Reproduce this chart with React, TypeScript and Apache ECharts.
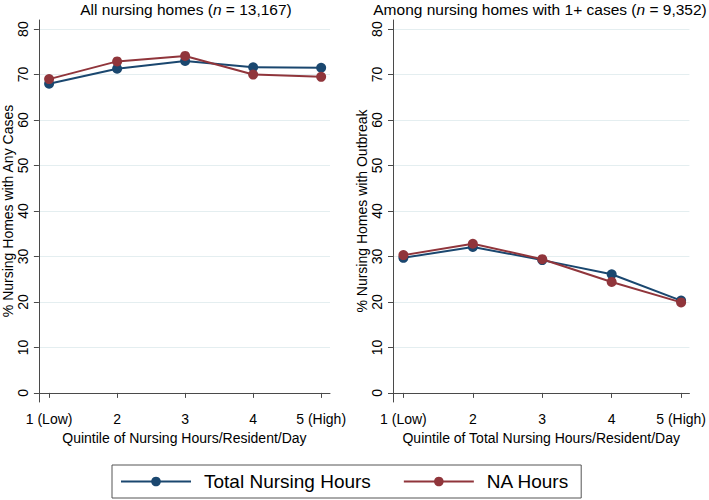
import React, { useEffect, useRef } from "react";
import * as echarts from "echarts";

const quintiles = [1, 2, 3, 4, 5];
const quintileLabels = ["1 (Low)", "2", "3", "4", "5 (High)"];
const yTicks = [0, 10, 20, 30, 40, 50, 60, 70, 80];

const anyTotal = [68.0, 71.3, 73.0, 71.6, 71.5];
const anyNA = [69.0, 72.9, 74.1, 70.0, 69.5];
const outTotal = [29.7, 32.1, 29.2, 26.1, 20.3];
const outNA = [30.3, 32.8, 29.4, 24.4, 19.9];

const seriesNames = ["Total Nursing Hours", "NA Hours"];
const leftTitle = ["All nursing homes (", "n", " = 13,167)"];
const rightTitle = ["Among nursing homes with 1+ cases (", "n", " = 9,352)"];
const yNames = ["% Nursing Homes with Any Cases", "% Nursing Homes with Outbreak"];
const xNames = ["Quintile of Nursing Hours/Resident/Day", "Quintile of Total Nursing Hours/Resident/Day"];

const BLUE = "#1a476f";
const RED = "#90353b";
const AXIS = "#4a4a4a";
const GRID = "#e4eef0";
const FONT = "Liberation Sans, Arial, sans-serif";

function pairs(vals: number[]) {
  return quintiles.map((q, i) => [q, vals[i]]);
}

export default function App() {
  const ref = useRef<HTMLDivElement>(null);
  useEffect(() => {
    if (!ref.current) return;
    const chart = echarts.init(ref.current, null, { renderer: "svg" });
    const mkX = (gi: number, max: number) => ({
      type: "value",
      gridIndex: gi,
      min: 0.85,
      max,
      axisLine: { show: true, lineStyle: { color: AXIS, width: 1 } },
      axisTick: { show: true, length: 5, customValues: quintiles, lineStyle: { color: AXIS } },
      axisLabel: {
        customValues: quintiles,
        formatter: (v: number) => quintileLabels[quintiles.indexOf(Math.round(v))] ?? "",
        color: "#000",
        fontSize: 14,
        fontFamily: FONT,
        margin: 10,
      },
      splitLine: { show: false },
      name: xNames[gi],
      nameLocation: "middle",
      nameGap: 23,
      nameTextStyle: { color: "#000", fontSize: 14, fontFamily: FONT },
    });
    const mkY = (gi: number) => ({
      type: "value",
      gridIndex: gi,
      min: -2,
      max: 82,
      axisLine: { show: true, lineStyle: { color: AXIS, width: 1 } },
      axisTick: { show: true, length: 5, customValues: yTicks, lineStyle: { color: AXIS } },
      axisLabel: {
        customValues: yTicks,
        rotate: 90,
        color: "#000",
        fontSize: 14,
        fontFamily: FONT,
        margin: 9,
      },
      splitLine: { show: true, lineStyle: { color: GRID, width: 1 } },
      name: yNames[gi],
      nameLocation: "middle",
      nameGap: 22,
      nameTextStyle: { color: "#000", fontSize: 14, fontFamily: FONT },
    });
    const mkSeries = (name: string, data: number[], color: string, gi: number) => ({
      type: "line",
      name,
      xAxisIndex: gi,
      yAxisIndex: gi,
      data: pairs(data),
      symbol: "circle",
      symbolSize: 10,
      lineStyle: { color, width: 2 },
      itemStyle: { color },
      z: color === RED ? 3 : 2,
    });
    const TS = 15.5;
    const rich = {
      t: { fontSize: TS, fontFamily: FONT, fill: "#000" },
      i: { fontSize: TS, fontFamily: FONT, fontStyle: "italic", fill: "#000" },
    };
    const titleText = (p: string[]) => `{t|${p[0]}}{i|${p[1]}}{t|${p[2]}}`;
    chart.setOption({
      animation: false,
      backgroundColor: "#fff",
      grid: [
        { left: 37, top: 20, width: 293, height: 382 },
        { left: 393, top: 20, width: 300, height: 382 },
      ],
      xAxis: [mkX(0, 5.13), mkX(1, 5.12)],
      yAxis: [mkY(0), mkY(1)],
      legend: {
        data: seriesNames,
        left: 112,
        top: 465,
        orient: "horizontal",
        padding: [7, 12, 7, 8],
        itemGap: 32,
        itemWidth: 70,
        itemHeight: 12,
        borderColor: "#555",
        borderWidth: 1,
        textStyle: { color: "#000", fontSize: 19, fontFamily: FONT, padding: [0, 0, 0, 8] },
      },
      graphic: [
        {
          type: "text",
          x: 186,
          y: 1,
          style: {
            text: titleText(leftTitle),
            rich,
            fontSize: TS,
            fontFamily: FONT,
            fill: "#000",
            align: "center",
            verticalAlign: "top",
          },
        },
        {
          type: "text",
          x: 540,
          y: 1,
          style: {
            text: titleText(rightTitle),
            rich,
            fontSize: TS,
            fontFamily: FONT,
            fill: "#000",
            align: "center",
            verticalAlign: "top",
          },
        },
      ],
      series: [
        mkSeries(seriesNames[0], anyTotal, BLUE, 0),
        mkSeries(seriesNames[1], anyNA, RED, 0),
        mkSeries(seriesNames[0], outTotal, BLUE, 1),
        mkSeries(seriesNames[1], outNA, RED, 1),
      ],
    });
    return () => chart.dispose();
  }, []);
  return (
    <div
      ref={ref}
      style={{ position: "fixed", left: 0, top: 0, width: 709, height: 500, background: "#fff" }}
    />
  );
}
